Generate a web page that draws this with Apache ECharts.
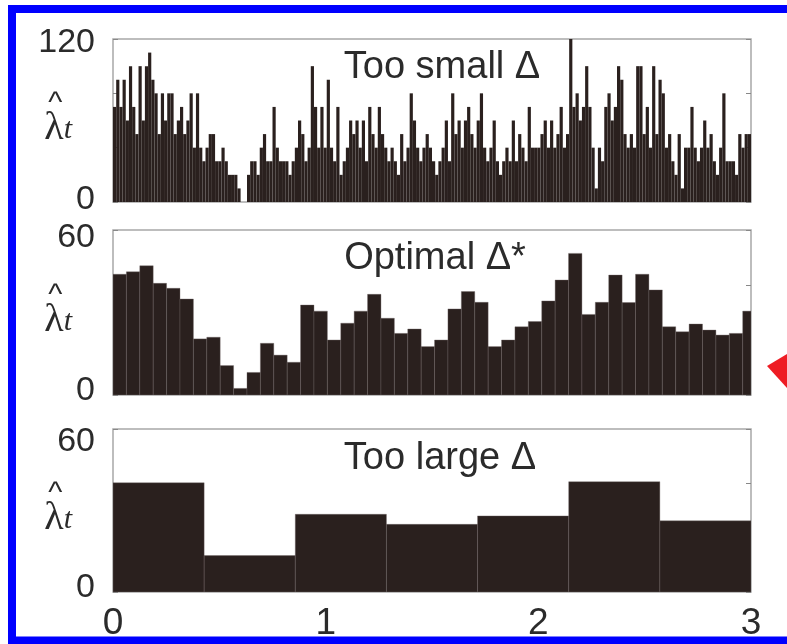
<!DOCTYPE html>
<html><head><meta charset="utf-8">
<script src="https://cdn.jsdelivr.net/npm/echarts@6/dist/echarts.min.js"></script>
<style>html,body{margin:0;padding:0;background:#fff}#c{width:787px;height:644px}</style>
</head><body><div id="c"></div>
<script>
// ---- data ----
const topRates = [
  70,90,70,90,60,100,70,50,100,60,
  100,110,90,80,50,80,60,80,80,50,
  60,70,50,60,80,40,80,40,30,40,
  50,50,30,30,40,30,20,20,20,10,
  0,0,20,30,30,20,40,50,30,30,
  70,40,30,30,30,20,30,40,60,50,
  30,40,100,70,40,70,40,90,40,30,
  70,20,30,40,60,50,60,40,60,30,
  70,50,40,70,50,40,30,40,30,20,
  50,30,40,80,60,40,30,40,50,40,
  30,20,30,40,60,30,80,50,60,40,
  60,70,50,40,60,80,40,30,40,60,
  30,20,30,40,30,60,30,50,40,30,
  70,40,40,40,50,60,40,60,40,50,
  70,40,50,120,70,80,60,70,100,70,
  40,10,40,30,70,80,60,70,100,90,
  50,40,50,40,100,100,50,70,40,100,
  50,90,80,40,50,30,20,50,10,40,
  40,70,40,30,40,60,40,50,30,20,
  40,80,30,30,30,20,50,40,50,50
];
const topBinWidth = 0.015;
const optimalRates = [
  43.9,44.8,47.0,40.6,38.8,34.9,20.4,21.0,10.7,2.4,
  8.2,18.8,14.5,11.9,32.7,30.5,20.0,26.1,30.5,36.6,
  27.9,22.4,24.0,17.6,20.0,31.3,37.6,33.7,17.6,20.0,
  24.8,26.7,34.2,41.8,51.5,29.3,33.7,43.6,33.6,43.9,
  38.2,24.8,23.0,25.8,23.6,21.8,22.4,30.5
];
const optimalBinWidth = 0.063;
const largeRates = [40.2, 13.4, 28.6, 24.9, 28.0, 40.6, 26.2];
const largeBinWidth = 3 / 7;
const panelTitles = ['Too small \u0394', 'Optimal \u0394*', 'Too large \u0394'];
const panelYMax = [120, 60, 60];
const panelYStep = [40, 20, 20];
const yAxisSymbol = '\u03bb';
const yAxisSubscript = 't';
const xMin = 0, xMax = 3, xStep = 1;

// ---- build ----
function bins(rates, w) {
  return rates.map((v, i) => [i * w, Math.min((i + 1) * w, xMax), v]);
}
const panels = [bins(topRates, topBinWidth), bins(optimalRates, optimalBinWidth), bins(largeRates, largeBinWidth)];

const FONT = '"Liberation Sans", Arial, Helvetica, sans-serif';
const SERIF = '"Liberation Serif", "DejaVu Serif", serif';
const INK = '#2b2b2b';
const BAR = '#2a201e';
const FRAME = '#a8a8a8';
const grids = [
  {left: 113, top: 39, width: 638, height: 163},
  {left: 113, top: 230, width: 638, height: 165},
  {left: 113, top: 429, width: 638, height: 163}
].map(g => Object.assign(g, {show: true, borderColor: FRAME, borderWidth: 1.5, backgroundColor: 'transparent', containLabel: false}));

const padTop = [8, 16, 26], padBot = [5, 8, 8];

const xAxes = [], yAxes = [], series = [];
for (let k = 0; k < 3; k++) {
  xAxes.push({
    type: 'value', gridIndex: k, min: xMin, max: xMax, interval: xStep,
    axisLine: {show: false}, axisTick: {show: false}, splitLine: {show: false},
    axisLabel: {show: k === 2, fontSize: 37, color: INK, fontFamily: FONT, margin: 13}
  });
  const ymax = panelYMax[k];
  yAxes.push({
    type: 'value', gridIndex: k, min: 0, max: ymax, interval: panelYStep[k], position: 'left',
    axisLine: {show: false}, splitLine: {show: false},
    axisTick: {show: true, inside: true, length: 5, lineStyle: {color: '#888', width: 1}},
    axisLabel: {
      fontSize: 34, color: INK, fontFamily: FONT, margin: 18,
      formatter: v => v === ymax ? '{mx|' + v + '}' : (v === 0 ? '{mn|0}' : ''),
      rich: {
        mx: {fontSize: 34, color: INK, fontFamily: FONT, padding: [padTop[k], 0, 0, 0]},
        mn: {fontSize: 34, color: INK, fontFamily: FONT, padding: [0, 0, padBot[k], 0]}
      }
    },
    name: '{hat|^}\n{l|' + yAxisSymbol + '}{t|' + yAxisSubscript + '}',
    nameLocation: 'middle', nameRotate: 0, nameGap: 41, nameMoveOverlap: false,
    nameTextStyle: {
      rich: {
        hat: {fontSize: 30, fontFamily: FONT, color: INK, align: 'left', padding: [0, 0, 0, 4], lineHeight: 16},
        l: {fontSize: 40, fontFamily: SERIF, color: INK, align: 'left', lineHeight: 34},
        t: {fontSize: 30, fontStyle: 'italic', fontFamily: SERIF, color: INK, align: 'left', lineHeight: 34, padding: [4, 0, 0, 0]}
      }
    }
  });
  yAxes.push({
    type: 'value', gridIndex: k, min: 0, max: ymax, interval: panelYStep[k], position: 'right',
    axisLine: {show: false}, splitLine: {show: false}, axisLabel: {show: false},
    axisTick: {show: true, inside: true, length: 5, lineStyle: {color: '#888', width: 1}}
  });
  const divider = k === 0 ? null : 'rgba(110,100,100,0.55)';
  series.push({
    type: 'custom', xAxisIndex: k, yAxisIndex: 2 * k, clip: true, z: 3,
    data: panels[k],
    encode: {x: [0, 1], y: 2},
    renderItem: (params, api) => {
      const p0 = api.coord([api.value(0), api.value(2)]);
      const p1 = api.coord([api.value(1), 0]);
      return {
        type: 'rect',
        shape: {x: p0[0], y: p0[1], width: p1[0] - p0[0], height: p1[1] - p0[1]},
        style: {fill: BAR, stroke: divider, lineWidth: divider ? 0.7 : 0}
      };
    }
  });
}

const titleCenters = [[437, 67], [430, 258], [435, 458]];
const option = {
  animation: false,
  backgroundColor: '#fff',
  grid: grids, xAxis: xAxes, yAxis: yAxes, series: series,
  title: panelTitles.map((t, k) => ({
    text: t, left: titleCenters[k][0], top: titleCenters[k][1] - 23, textAlign: 'center',
    textStyle: {fontSize: 38, fontWeight: 'normal', color: INK, fontFamily: FONT}
  })),
  graphic: [
    {type: 'rect', shape: {x: 12, y: 9, width: 800, height: 631.5}, style: {fill: 'none', stroke: '#0000ff', lineWidth: 8}, z: 10},
    {type: 'polygon', shape: {points: [[767, 366], [787, 354], [787, 388]]}, style: {fill: '#ee1c24'}, z: 10}
  ]
};
const chart = echarts.init(document.getElementById('c'), null, {renderer: 'canvas'});
chart.setOption(option);
</script></body></html>
